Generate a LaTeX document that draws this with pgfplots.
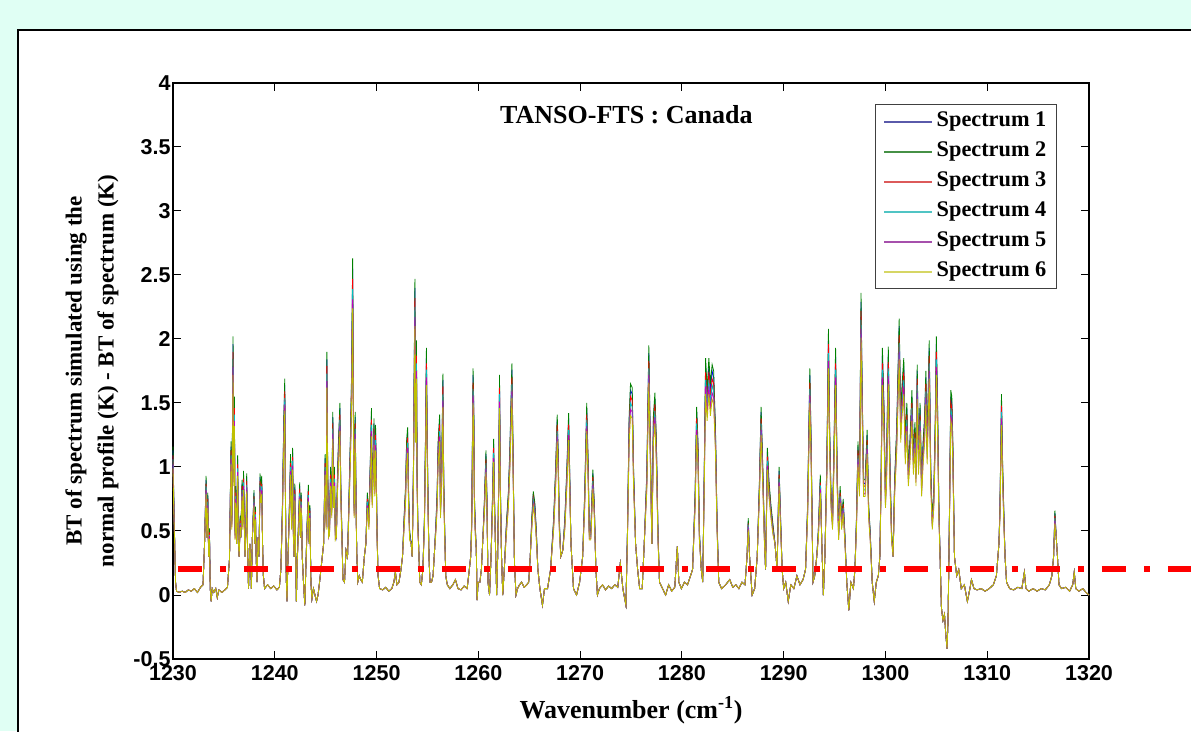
\documentclass[border=0pt]{standalone}
\usepackage{pgfplots}
\usepackage{pgfplotstable}
\pgfplotsset{compat=1.18}
\usepackage{fontspec}
\setmainfont{Liberation Serif}
\newfontfamily\lsans{Liberation Sans}
\definecolor{bgmint}{RGB}{224,255,244}
\definecolor{mA}{rgb}{0,0,1}
\definecolor{mB}{rgb}{0,0.5,0}
\definecolor{mC}{rgb}{1,0,0}
\definecolor{mD}{rgb}{0,0.75,0.75}
\definecolor{mE}{rgb}{0.75,0,0.75}
\definecolor{mF}{rgb}{0.75,0.75,0}
\definecolor{lA}{RGB}{90,90,170}
\definecolor{lB}{RGB}{70,145,70}
\definecolor{lC}{RGB}{220,90,90}
\definecolor{lD}{RGB}{80,196,196}
\definecolor{lE}{RGB}{166,80,172}
\definecolor{lF}{RGB}{214,214,100}
\pgfplotsset{speclegend/.style={legend image code/.code={%
  \pgfsetfillcolor{#1}\pgfpathrectangle{\pgfpoint{0pt}{-1pt}}{\pgfpoint{48pt}{2pt}}\pgfusepath{fill}}}}
\pgfplotstableread{
x s1 s2 s3 s4 s5 s6
1230.00 1.13 1.16 1.09 1.06 1.02 0.99
1230.06 0.82 0.85 0.80 0.77 0.75 0.72
1230.12 0.60 0.62 0.58 0.56 0.55 0.53
1230.18 0.35 0.35 0.35 0.35 0.35 0.35
1230.25 0.10 0.10 0.10 0.10 0.10 0.10
1230.35 0.03 0.03 0.03 0.03 0.03 0.03
1230.60 0.02 0.02 0.02 0.02 0.02 0.02
1230.90 0.03 0.03 0.03 0.03 0.03 0.03
1231.20 0.02 0.02 0.02 0.02 0.02 0.02
1231.50 0.04 0.04 0.04 0.04 0.04 0.04
1231.80 0.03 0.03 0.03 0.03 0.03 0.03
1232.10 0.05 0.05 0.05 0.05 0.05 0.05
1232.40 0.02 0.02 0.02 0.02 0.02 0.02
1232.70 0.06 0.06 0.06 0.06 0.06 0.06
1232.95 0.08 0.08 0.08 0.08 0.08 0.08
1233.10 0.40 0.40 0.40 0.40 0.40 0.40
1233.25 0.90 0.93 0.87 0.85 0.82 0.79
1233.33 0.45 0.45 0.45 0.45 0.45 0.45
1233.42 0.78 0.80 0.75 0.73 0.70 0.68
1233.50 0.30 0.30 0.30 0.30 0.30 0.30
1233.58 0.50 0.52 0.49 0.47 0.46 0.44
1233.66 0.05 0.05 0.05 0.05 0.05 0.05
1233.75 -0.05 -0.05 -0.05 -0.05 -0.05 -0.05
1233.85 0.05 0.05 0.05 0.05 0.05 0.05
1234.00 0.02 0.02 0.02 0.02 0.02 0.02
1234.20 0.05 0.05 0.05 0.05 0.05 0.05
1234.35 -0.02 -0.02 -0.02 -0.02 -0.02 -0.02
1234.50 0.04 0.04 0.04 0.04 0.04 0.04
1234.80 0.02 0.02 0.02 0.02 0.02 0.02
1235.10 0.04 0.04 0.04 0.04 0.04 0.04
1235.35 0.06 0.06 0.06 0.06 0.06 0.06
1235.55 0.28 0.28 0.28 0.28 0.28 0.28
1235.70 1.16 1.20 1.13 1.09 1.06 1.02
1235.78 0.58 0.60 0.56 0.55 0.53 0.51
1235.90 1.96 2.02 1.90 1.84 1.78 1.72
1235.97 0.97 1.00 0.94 0.91 0.88 0.85
1236.03 1.50 1.55 1.46 1.41 1.36 1.32
1236.10 0.49 0.50 0.47 0.46 0.44 0.43
1236.17 0.82 0.85 0.80 0.77 0.75 0.72
1236.25 0.40 0.40 0.40 0.40 0.40 0.40
1236.35 1.06 1.09 1.02 0.99 0.96 0.93
1236.42 0.49 0.50 0.47 0.46 0.44 0.43
1236.50 0.30 0.30 0.30 0.30 0.30 0.30
1236.60 0.60 0.62 0.58 0.56 0.55 0.53
1236.67 0.45 0.45 0.45 0.45 0.45 0.45
1236.78 0.87 0.90 0.85 0.82 0.79 0.77
1236.85 0.58 0.60 0.56 0.55 0.53 0.51
1236.93 0.94 0.97 0.91 0.88 0.85 0.82
1237.00 0.63 0.65 0.61 0.59 0.57 0.55
1237.08 0.30 0.30 0.30 0.30 0.30 0.30
1237.17 0.53 0.55 0.52 0.50 0.48 0.47
1237.24 0.92 0.95 0.89 0.86 0.84 0.81
1237.32 0.40 0.40 0.40 0.40 0.40 0.40
1237.42 0.05 0.05 0.05 0.05 0.05 0.05
1237.55 0.40 0.40 0.40 0.40 0.40 0.40
1237.62 0.30 0.30 0.30 0.30 0.30 0.30
1237.70 0.05 0.05 0.05 0.05 0.05 0.05
1237.80 0.45 0.45 0.45 0.45 0.45 0.45
1237.96 0.80 0.82 0.77 0.75 0.72 0.70
1238.03 0.40 0.40 0.40 0.40 0.40 0.40
1238.10 0.67 0.69 0.65 0.63 0.61 0.59
1238.17 0.30 0.30 0.30 0.30 0.30 0.30
1238.25 0.10 0.10 0.10 0.10 0.10 0.10
1238.35 0.45 0.45 0.45 0.45 0.45 0.45
1238.45 0.30 0.30 0.30 0.30 0.30 0.30
1238.55 0.92 0.95 0.89 0.86 0.84 0.81
1238.62 0.82 0.85 0.80 0.77 0.75 0.72
1238.72 0.90 0.93 0.87 0.85 0.82 0.79
1238.80 0.40 0.40 0.40 0.40 0.40 0.40
1238.88 0.15 0.15 0.15 0.15 0.15 0.15
1239.00 0.05 0.05 0.05 0.05 0.05 0.05
1239.30 0.08 0.08 0.08 0.08 0.08 0.08
1239.60 0.05 0.05 0.05 0.05 0.05 0.05
1239.90 0.07 0.07 0.07 0.07 0.07 0.07
1240.20 0.04 0.04 0.04 0.04 0.04 0.04
1240.45 0.06 0.06 0.06 0.06 0.06 0.06
1240.60 0.20 0.20 0.20 0.20 0.20 0.20
1240.75 0.68 0.70 0.66 0.64 0.62 0.60
1240.88 1.31 1.35 1.27 1.23 1.19 1.15
1240.98 1.64 1.69 1.59 1.54 1.49 1.44
1241.05 0.78 0.80 0.75 0.73 0.70 0.68
1241.12 0.15 0.15 0.15 0.15 0.15 0.15
1241.20 -0.05 -0.05 -0.05 -0.05 -0.05 -0.05
1241.30 0.30 0.30 0.30 0.30 0.30 0.30
1241.45 0.73 0.75 0.71 0.68 0.66 0.64
1241.55 1.07 1.10 1.03 1.00 0.97 0.94
1241.65 0.58 0.60 0.56 0.55 0.53 0.51
1241.75 1.12 1.15 1.08 1.05 1.01 0.98
1241.82 0.53 0.55 0.52 0.50 0.48 0.47
1241.90 0.30 0.30 0.30 0.30 0.30 0.30
1241.97 0.84 0.87 0.82 0.79 0.77 0.74
1242.05 0.30 0.30 0.30 0.30 0.30 0.30
1242.12 -0.05 -0.05 -0.05 -0.05 -0.05 -0.05
1242.20 0.25 0.25 0.25 0.25 0.25 0.25
1242.32 0.53 0.55 0.52 0.50 0.48 0.47
1242.45 0.85 0.88 0.83 0.80 0.77 0.75
1242.52 0.45 0.45 0.45 0.45 0.45 0.45
1242.60 0.78 0.80 0.75 0.73 0.70 0.68
1242.70 0.30 0.30 0.30 0.30 0.30 0.30
1242.82 0.10 0.10 0.10 0.10 0.10 0.10
1242.95 -0.08 -0.08 -0.08 -0.08 -0.08 -0.08
1243.05 0.20 0.20 0.20 0.20 0.20 0.20
1243.15 0.49 0.50 0.47 0.46 0.44 0.43
1243.30 0.83 0.86 0.81 0.78 0.76 0.73
1243.38 0.40 0.40 0.40 0.40 0.40 0.40
1243.45 0.68 0.70 0.66 0.64 0.62 0.60
1243.55 0.10 0.10 0.10 0.10 0.10 0.10
1243.65 -0.03 -0.03 -0.03 -0.03 -0.03 -0.03
1243.80 0.05 0.05 0.05 0.05 0.05 0.05
1243.95 0.00 0.00 0.00 0.00 0.00 0.00
1244.10 -0.05 -0.05 -0.05 -0.05 -0.05 -0.05
1244.25 0.00 0.00 0.00 0.00 0.00 0.00
1244.40 0.10 0.10 0.10 0.10 0.10 0.10
1244.60 0.25 0.25 0.25 0.25 0.25 0.25
1244.80 0.40 0.40 0.40 0.40 0.40 0.40
1244.95 1.07 1.10 1.03 1.00 0.97 0.94
1245.05 0.58 0.60 0.56 0.55 0.53 0.51
1245.12 1.84 1.90 1.79 1.73 1.67 1.62
1245.20 0.97 1.00 0.94 0.91 0.88 0.85
1245.28 0.45 0.45 0.45 0.45 0.45 0.45
1245.38 0.53 0.55 0.52 0.50 0.48 0.47
1245.48 0.97 1.00 0.94 0.91 0.88 0.85
1245.60 0.68 0.70 0.66 0.64 0.62 0.60
1245.70 1.39 1.43 1.34 1.30 1.26 1.22
1245.78 0.78 0.80 0.75 0.73 0.70 0.68
1245.86 0.97 1.00 0.94 0.91 0.88 0.85
1245.95 0.49 0.50 0.47 0.46 0.44 0.43
1246.05 0.45 0.45 0.45 0.45 0.45 0.45
1246.15 0.87 0.90 0.85 0.82 0.79 0.77
1246.25 1.14 1.18 1.11 1.07 1.04 1.00
1246.40 1.46 1.50 1.41 1.37 1.32 1.28
1246.48 0.87 0.90 0.85 0.82 0.79 0.77
1246.58 0.53 0.55 0.52 0.50 0.48 0.47
1246.70 0.12 0.12 0.12 0.12 0.12 0.12
1246.85 0.10 0.10 0.10 0.10 0.10 0.10
1247.00 0.35 0.35 0.35 0.35 0.35 0.35
1247.15 0.30 0.30 0.30 0.30 0.30 0.30
1247.30 0.78 0.80 0.75 0.73 0.70 0.68
1247.45 1.26 1.30 1.22 1.18 1.14 1.11
1247.55 1.70 1.75 1.65 1.59 1.54 1.49
1247.65 2.55 2.63 2.47 2.39 2.31 2.24
1247.73 1.46 1.50 1.41 1.37 1.32 1.28
1247.80 0.68 0.70 0.66 0.64 0.62 0.60
1247.90 1.39 1.43 1.34 1.30 1.26 1.22
1247.98 0.78 0.80 0.75 0.73 0.70 0.68
1248.05 0.35 0.35 0.35 0.35 0.35 0.35
1248.15 0.10 0.10 0.10 0.10 0.10 0.10
1248.30 0.15 0.15 0.15 0.15 0.15 0.15
1248.45 0.12 0.12 0.12 0.12 0.12 0.12
1248.60 0.10 0.10 0.10 0.10 0.10 0.10
1248.80 0.30 0.30 0.30 0.30 0.30 0.30
1248.95 0.40 0.40 0.40 0.40 0.40 0.40
1249.10 0.78 0.80 0.75 0.73 0.70 0.68
1249.25 0.58 0.60 0.56 0.55 0.53 0.51
1249.40 1.07 1.10 1.03 1.00 0.97 0.94
1249.50 1.42 1.46 1.37 1.33 1.28 1.24
1249.57 0.78 0.80 0.75 0.73 0.70 0.68
1249.65 0.97 1.00 0.94 0.91 0.88 0.85
1249.75 1.34 1.38 1.30 1.26 1.21 1.17
1249.82 0.87 0.90 0.85 0.82 0.79 0.77
1249.90 1.29 1.33 1.25 1.21 1.17 1.13
1249.97 0.97 1.00 0.94 0.91 0.88 0.85
1250.05 0.49 0.50 0.47 0.46 0.44 0.43
1250.15 0.15 0.15 0.15 0.15 0.15 0.15
1250.30 0.05 0.05 0.05 0.05 0.05 0.05
1250.60 0.04 0.04 0.04 0.04 0.04 0.04
1250.90 0.06 0.06 0.06 0.06 0.06 0.06
1251.20 0.03 0.03 0.03 0.03 0.03 0.03
1251.50 0.05 0.05 0.05 0.05 0.05 0.05
1251.70 0.10 0.10 0.10 0.10 0.10 0.10
1251.85 0.18 0.18 0.18 0.18 0.18 0.18
1252.00 0.08 0.08 0.08 0.08 0.08 0.08
1252.20 0.10 0.10 0.10 0.10 0.10 0.10
1252.40 0.20 0.20 0.20 0.20 0.20 0.20
1252.55 0.30 0.30 0.30 0.30 0.30 0.30
1252.70 0.58 0.60 0.56 0.55 0.53 0.51
1252.85 0.82 0.85 0.80 0.77 0.75 0.72
1252.95 1.16 1.20 1.13 1.09 1.06 1.02
1253.05 1.27 1.31 1.23 1.19 1.15 1.11
1253.15 0.78 0.80 0.75 0.73 0.70 0.68
1253.25 0.49 0.50 0.47 0.46 0.44 0.43
1253.40 0.40 0.40 0.40 0.40 0.40 0.40
1253.50 0.30 0.30 0.30 0.30 0.30 0.30
1253.62 0.97 1.00 0.94 0.91 0.88 0.85
1253.70 1.75 1.80 1.69 1.64 1.58 1.53
1253.77 2.40 2.47 2.32 2.25 2.17 2.10
1253.84 1.36 1.40 1.32 1.27 1.23 1.19
1253.92 1.93 1.99 1.87 1.81 1.75 1.69
1253.98 0.97 1.00 0.94 0.91 0.88 0.85
1254.05 0.58 0.60 0.56 0.55 0.53 0.51
1254.15 0.35 0.35 0.35 0.35 0.35 0.35
1254.25 0.10 0.10 0.10 0.10 0.10 0.10
1254.40 0.08 0.08 0.08 0.08 0.08 0.08
1254.55 0.20 0.20 0.20 0.20 0.20 0.20
1254.70 0.58 0.60 0.56 0.55 0.53 0.51
1254.80 1.16 1.20 1.13 1.09 1.06 1.02
1254.90 1.87 1.93 1.81 1.76 1.70 1.64
1254.97 1.26 1.30 1.22 1.18 1.14 1.11
1255.05 0.78 0.80 0.75 0.73 0.70 0.68
1255.15 0.30 0.30 0.30 0.30 0.30 0.30
1255.25 0.10 0.10 0.10 0.10 0.10 0.10
1255.40 0.10 0.10 0.10 0.10 0.10 0.10
1255.55 0.15 0.15 0.15 0.15 0.15 0.15
1255.70 0.35 0.35 0.35 0.35 0.35 0.35
1255.85 0.58 0.60 0.56 0.55 0.53 0.51
1255.95 0.78 0.80 0.75 0.73 0.70 0.68
1256.05 1.16 1.20 1.13 1.09 1.06 1.02
1256.20 1.37 1.41 1.33 1.28 1.24 1.20
1256.28 0.68 0.70 0.66 0.64 0.62 0.60
1256.40 0.97 1.00 0.94 0.91 0.88 0.85
1256.52 1.68 1.73 1.63 1.57 1.52 1.47
1256.60 0.87 0.90 0.85 0.82 0.79 0.77
1256.70 0.49 0.50 0.47 0.46 0.44 0.43
1256.80 0.15 0.15 0.15 0.15 0.15 0.15
1256.95 0.08 0.08 0.08 0.08 0.08 0.08
1257.20 0.05 0.05 0.05 0.05 0.05 0.05
1257.50 0.08 0.08 0.08 0.08 0.08 0.08
1257.75 0.12 0.12 0.12 0.12 0.12 0.12
1258.00 0.05 0.05 0.05 0.05 0.05 0.05
1258.30 0.04 0.04 0.04 0.04 0.04 0.04
1258.60 0.07 0.07 0.07 0.07 0.07 0.07
1258.90 0.05 0.05 0.05 0.05 0.05 0.05
1259.10 0.19 0.19 0.19 0.19 0.19 0.19
1259.25 0.30 0.30 0.30 0.30 0.30 0.30
1259.35 0.58 0.60 0.56 0.55 0.53 0.51
1259.48 1.72 1.77 1.66 1.61 1.56 1.50
1259.55 1.46 1.50 1.41 1.37 1.32 1.28
1259.62 0.75 0.77 0.72 0.70 0.68 0.65
1259.70 0.53 0.55 0.52 0.50 0.48 0.47
1259.80 0.35 0.35 0.35 0.35 0.35 0.35
1259.88 -0.04 -0.04 -0.04 -0.04 -0.04 -0.04
1259.98 0.10 0.10 0.10 0.10 0.10 0.10
1260.15 0.10 0.10 0.10 0.10 0.10 0.10
1260.30 0.20 0.20 0.20 0.20 0.20 0.20
1260.45 0.45 0.45 0.45 0.45 0.45 0.45
1260.60 0.73 0.75 0.71 0.68 0.66 0.64
1260.75 1.10 1.13 1.06 1.03 0.99 0.96
1260.85 0.73 0.75 0.71 0.68 0.66 0.64
1260.95 0.10 0.10 0.10 0.10 0.10 0.10
1261.10 0.00 0.00 0.00 0.00 0.00 0.00
1261.25 0.30 0.30 0.30 0.30 0.30 0.30
1261.40 0.78 0.80 0.75 0.73 0.70 0.68
1261.50 1.18 1.22 1.15 1.11 1.07 1.04
1261.58 0.78 0.80 0.75 0.73 0.70 0.68
1261.68 0.40 0.40 0.40 0.40 0.40 0.40
1261.80 0.00 0.00 0.00 0.00 0.00 0.00
1261.90 0.30 0.30 0.30 0.30 0.30 0.30
1262.00 0.89 0.92 0.86 0.84 0.81 0.78
1262.08 1.67 1.72 1.62 1.57 1.51 1.46
1262.18 0.78 0.80 0.75 0.73 0.70 0.68
1262.28 0.30 0.30 0.30 0.30 0.30 0.30
1262.40 0.00 0.00 0.00 0.00 0.00 0.00
1262.55 0.20 0.20 0.20 0.20 0.20 0.20
1262.75 0.53 0.55 0.52 0.50 0.48 0.47
1262.95 0.78 0.80 0.75 0.73 0.70 0.68
1263.10 1.12 1.15 1.08 1.05 1.01 0.98
1263.30 1.76 1.81 1.70 1.65 1.59 1.54
1263.40 1.16 1.20 1.13 1.09 1.06 1.02
1263.55 0.25 0.25 0.25 0.25 0.25 0.25
1263.70 0.00 0.00 0.00 0.00 0.00 0.00
1263.85 0.05 0.05 0.05 0.05 0.05 0.05
1264.05 0.08 0.08 0.08 0.08 0.08 0.08
1264.25 0.10 0.10 0.10 0.10 0.10 0.10
1264.50 0.06 0.06 0.06 0.06 0.06 0.06
1264.75 0.08 0.08 0.08 0.08 0.08 0.08
1264.95 0.10 0.10 0.10 0.10 0.10 0.10
1265.10 0.30 0.30 0.30 0.30 0.30 0.30
1265.25 0.58 0.60 0.56 0.55 0.53 0.51
1265.40 0.79 0.81 0.76 0.74 0.71 0.69
1265.55 0.70 0.72 0.68 0.66 0.63 0.61
1265.70 0.49 0.50 0.47 0.46 0.44 0.43
1265.85 0.20 0.20 0.20 0.20 0.20 0.20
1266.05 0.05 0.05 0.05 0.05 0.05 0.05
1266.30 -0.08 -0.08 -0.08 -0.08 -0.08 -0.08
1266.50 0.05 0.05 0.05 0.05 0.05 0.05
1266.80 0.05 0.05 0.05 0.05 0.05 0.05
1267.10 0.20 0.20 0.20 0.20 0.20 0.20
1267.40 0.58 0.60 0.56 0.55 0.53 0.51
1267.60 0.97 1.00 0.94 0.91 0.88 0.85
1267.75 1.37 1.41 1.33 1.28 1.24 1.20
1267.85 1.07 1.10 1.03 1.00 0.97 0.94
1267.95 0.58 0.60 0.56 0.55 0.53 0.51
1268.10 0.30 0.30 0.30 0.30 0.30 0.30
1268.30 0.35 0.35 0.35 0.35 0.35 0.35
1268.50 0.58 0.60 0.56 0.55 0.53 0.51
1268.70 0.97 1.00 0.94 0.91 0.88 0.85
1268.87 1.38 1.42 1.33 1.29 1.25 1.21
1268.97 0.97 1.00 0.94 0.91 0.88 0.85
1269.10 0.40 0.40 0.40 0.40 0.40 0.40
1269.35 0.05 0.05 0.05 0.05 0.05 0.05
1269.65 0.00 0.00 0.00 0.00 0.00 0.00
1269.95 0.10 0.10 0.10 0.10 0.10 0.10
1270.25 0.30 0.30 0.30 0.30 0.30 0.30
1270.45 0.78 0.80 0.75 0.73 0.70 0.68
1270.65 1.46 1.50 1.41 1.37 1.32 1.28
1270.80 0.97 1.00 0.94 0.91 0.88 0.85
1270.90 0.49 0.50 0.47 0.46 0.44 0.43
1271.05 0.49 0.50 0.47 0.46 0.44 0.43
1271.25 0.95 0.98 0.92 0.89 0.86 0.83
1271.40 0.68 0.70 0.66 0.64 0.62 0.60
1271.55 0.20 0.20 0.20 0.20 0.20 0.20
1271.70 0.00 0.00 0.00 0.00 0.00 0.00
1271.90 0.05 0.05 0.05 0.05 0.05 0.05
1272.20 0.08 0.08 0.08 0.08 0.08 0.08
1272.50 0.04 0.04 0.04 0.04 0.04 0.04
1272.80 0.07 0.07 0.07 0.07 0.07 0.07
1273.10 0.05 0.05 0.05 0.05 0.05 0.05
1273.40 0.08 0.08 0.08 0.08 0.08 0.08
1273.70 0.06 0.06 0.06 0.06 0.06 0.06
1273.95 0.25 0.25 0.25 0.25 0.25 0.25
1274.20 0.05 0.05 0.05 0.05 0.05 0.05
1274.50 -0.08 -0.08 -0.08 -0.08 -0.08 -0.08
1274.65 0.49 0.50 0.47 0.46 0.44 0.43
1274.82 1.36 1.40 1.32 1.27 1.23 1.19
1274.95 1.60 1.65 1.55 1.50 1.45 1.40
1275.12 1.57 1.62 1.52 1.47 1.43 1.38
1275.25 0.97 1.00 0.94 0.91 0.88 0.85
1275.45 0.40 0.40 0.40 0.40 0.40 0.40
1275.65 0.20 0.20 0.20 0.20 0.20 0.20
1275.85 0.05 0.05 0.05 0.05 0.05 0.05
1276.10 0.05 0.05 0.05 0.05 0.05 0.05
1276.30 0.40 0.40 0.40 0.40 0.40 0.40
1276.55 0.92 0.95 0.89 0.86 0.84 0.81
1276.75 1.89 1.95 1.83 1.77 1.72 1.66
1276.90 1.16 1.20 1.13 1.09 1.06 1.02
1277.05 0.40 0.40 0.40 0.40 0.40 0.40
1277.20 1.36 1.40 1.32 1.27 1.23 1.19
1277.35 1.53 1.58 1.49 1.44 1.39 1.34
1277.50 1.14 1.18 1.11 1.07 1.04 1.00
1277.65 0.49 0.50 0.47 0.46 0.44 0.43
1277.80 0.10 0.10 0.10 0.10 0.10 0.10
1278.10 0.05 0.05 0.05 0.05 0.05 0.05
1278.40 0.00 0.00 0.00 0.00 0.00 0.00
1278.70 0.08 0.08 0.08 0.08 0.08 0.08
1279.00 0.03 0.03 0.03 0.03 0.03 0.03
1279.30 0.06 0.06 0.06 0.06 0.06 0.06
1279.55 0.38 0.38 0.38 0.38 0.38 0.38
1279.70 0.10 0.10 0.10 0.10 0.10 0.10
1279.95 0.05 0.05 0.05 0.05 0.05 0.05
1280.25 0.10 0.10 0.10 0.10 0.10 0.10
1280.55 0.08 0.08 0.08 0.08 0.08 0.08
1280.85 0.15 0.15 0.15 0.15 0.15 0.15
1281.05 0.20 0.20 0.20 0.20 0.20 0.20
1281.30 0.78 0.80 0.75 0.73 0.70 0.68
1281.45 1.43 1.47 1.38 1.34 1.29 1.25
1281.58 1.16 1.20 1.13 1.09 1.06 1.02
1281.72 0.49 0.50 0.47 0.46 0.44 0.43
1281.90 0.20 0.20 0.20 0.20 0.20 0.20
1282.05 0.10 0.10 0.10 0.10 0.10 0.10
1282.20 0.97 1.00 0.94 0.91 0.88 0.85
1282.33 1.79 1.85 1.74 1.68 1.63 1.57
1282.48 1.55 1.60 1.50 1.46 1.41 1.36
1282.65 1.79 1.85 1.74 1.68 1.63 1.57
1282.80 1.60 1.65 1.55 1.50 1.45 1.40
1282.97 1.75 1.80 1.69 1.64 1.58 1.53
1283.12 1.70 1.75 1.65 1.59 1.54 1.49
1283.30 1.26 1.30 1.22 1.18 1.14 1.11
1283.45 0.58 0.60 0.56 0.55 0.53 0.51
1283.62 0.10 0.10 0.10 0.10 0.10 0.10
1283.90 0.05 0.05 0.05 0.05 0.05 0.05
1284.30 0.08 0.08 0.08 0.08 0.08 0.08
1284.70 0.12 0.12 0.12 0.12 0.12 0.12
1285.00 0.06 0.06 0.06 0.06 0.06 0.06
1285.30 0.08 0.08 0.08 0.08 0.08 0.08
1285.60 0.05 0.05 0.05 0.05 0.05 0.05
1285.90 0.10 0.10 0.10 0.10 0.10 0.10
1286.20 0.08 0.08 0.08 0.08 0.08 0.08
1286.40 0.30 0.30 0.30 0.30 0.30 0.30
1286.52 0.58 0.60 0.56 0.55 0.53 0.51
1286.65 0.30 0.30 0.30 0.30 0.30 0.30
1286.90 0.00 0.00 0.00 0.00 0.00 0.00
1287.15 0.05 0.05 0.05 0.05 0.05 0.05
1287.40 0.30 0.30 0.30 0.30 0.30 0.30
1287.62 0.87 0.90 0.85 0.82 0.79 0.77
1287.78 1.43 1.47 1.38 1.34 1.29 1.25
1287.95 0.97 1.00 0.94 0.91 0.88 0.85
1288.10 0.49 0.50 0.47 0.46 0.44 0.43
1288.22 0.20 0.20 0.20 0.20 0.20 0.20
1288.40 1.12 1.15 1.08 1.05 1.01 0.98
1288.55 0.87 0.90 0.85 0.82 0.79 0.77
1288.75 0.68 0.70 0.66 0.64 0.62 0.60
1288.95 0.53 0.55 0.52 0.50 0.48 0.47
1289.15 0.40 0.40 0.40 0.40 0.40 0.40
1289.35 0.20 0.20 0.20 0.20 0.20 0.20
1289.55 0.97 1.00 0.94 0.91 0.88 0.85
1289.70 0.58 0.60 0.56 0.55 0.53 0.51
1289.85 0.20 0.20 0.20 0.20 0.20 0.20
1290.00 0.05 0.05 0.05 0.05 0.05 0.05
1290.20 0.10 0.10 0.10 0.10 0.10 0.10
1290.45 -0.05 -0.05 -0.05 -0.05 -0.05 -0.05
1290.70 0.08 0.08 0.08 0.08 0.08 0.08
1291.00 0.05 0.05 0.05 0.05 0.05 0.05
1291.30 0.15 0.15 0.15 0.15 0.15 0.15
1291.60 0.08 0.08 0.08 0.08 0.08 0.08
1291.90 0.12 0.12 0.12 0.12 0.12 0.12
1292.15 0.20 0.20 0.20 0.20 0.20 0.20
1292.35 0.68 0.70 0.66 0.64 0.62 0.60
1292.57 1.72 1.77 1.66 1.61 1.56 1.50
1292.70 1.16 1.20 1.13 1.09 1.06 1.02
1292.88 0.10 0.10 0.10 0.10 0.10 0.10
1293.05 0.15 0.15 0.15 0.15 0.15 0.15
1293.25 0.30 0.30 0.30 0.30 0.30 0.30
1293.40 0.49 0.50 0.47 0.46 0.44 0.43
1293.60 0.91 0.94 0.88 0.86 0.83 0.80
1293.75 0.40 0.40 0.40 0.40 0.40 0.40
1293.90 0.00 0.00 0.00 0.00 0.00 0.00
1294.05 0.30 0.30 0.30 0.30 0.30 0.30
1294.25 1.07 1.10 1.03 1.00 0.97 0.94
1294.40 2.02 2.08 1.96 1.89 1.83 1.77
1294.52 1.26 1.30 1.22 1.18 1.14 1.11
1294.65 0.78 0.80 0.75 0.73 0.70 0.68
1294.80 0.58 0.60 0.56 0.55 0.53 0.51
1294.95 1.16 1.20 1.13 1.09 1.06 1.02
1295.10 1.87 1.93 1.81 1.76 1.70 1.64
1295.25 0.97 1.00 0.94 0.91 0.88 0.85
1295.40 0.49 0.50 0.47 0.46 0.44 0.43
1295.55 0.82 0.85 0.80 0.77 0.75 0.72
1295.70 0.58 0.60 0.56 0.55 0.53 0.51
1295.85 0.73 0.75 0.71 0.68 0.66 0.64
1296.00 0.49 0.50 0.47 0.46 0.44 0.43
1296.20 0.10 0.10 0.10 0.10 0.10 0.10
1296.40 -0.12 -0.12 -0.12 -0.12 -0.12 -0.12
1296.60 0.10 0.10 0.10 0.10 0.10 0.10
1296.85 0.05 0.05 0.05 0.05 0.05 0.05
1297.00 0.20 0.20 0.20 0.20 0.20 0.20
1297.15 0.58 0.60 0.56 0.55 0.53 0.51
1297.30 1.16 1.20 1.13 1.09 1.06 1.02
1297.45 0.87 0.90 0.85 0.82 0.79 0.77
1297.60 2.29 2.36 2.22 2.15 2.08 2.01
1297.70 1.65 1.70 1.60 1.55 1.50 1.45
1297.85 0.87 0.90 0.85 0.82 0.79 0.77
1298.00 0.87 0.90 0.85 0.82 0.79 0.77
1298.20 1.25 1.29 1.21 1.17 1.14 1.10
1298.35 0.68 0.70 0.66 0.64 0.62 0.60
1298.50 0.49 0.50 0.47 0.46 0.44 0.43
1298.70 0.10 0.10 0.10 0.10 0.10 0.10
1298.90 -0.05 -0.05 -0.05 -0.05 -0.05 -0.05
1299.10 0.10 0.10 0.10 0.10 0.10 0.10
1299.30 0.15 0.15 0.15 0.15 0.15 0.15
1299.45 0.30 0.30 0.30 0.30 0.30 0.30
1299.58 0.97 1.00 0.94 0.91 0.88 0.85
1299.70 1.87 1.93 1.81 1.76 1.70 1.64
1299.85 1.46 1.50 1.41 1.37 1.32 1.28
1300.00 0.78 0.80 0.75 0.73 0.70 0.68
1300.10 0.97 1.00 0.94 0.91 0.88 0.85
1300.28 1.88 1.94 1.82 1.77 1.71 1.65
1300.45 0.97 1.00 0.94 0.91 0.88 0.85
1300.60 0.49 0.50 0.47 0.46 0.44 0.43
1300.75 0.30 0.30 0.30 0.30 0.30 0.30
1300.90 0.87 0.90 0.85 0.82 0.79 0.77
1301.10 1.26 1.30 1.22 1.18 1.14 1.11
1301.35 2.10 2.16 2.03 1.97 1.90 1.84
1301.50 1.36 1.40 1.32 1.27 1.23 1.19
1301.60 1.55 1.60 1.50 1.46 1.41 1.36
1301.80 1.79 1.85 1.74 1.68 1.63 1.57
1301.95 1.16 1.20 1.13 1.09 1.06 1.02
1302.10 1.46 1.50 1.41 1.37 1.32 1.28
1302.25 0.97 1.00 0.94 0.91 0.88 0.85
1302.40 1.16 1.20 1.13 1.09 1.06 1.02
1302.60 1.55 1.60 1.50 1.46 1.41 1.36
1302.75 1.07 1.10 1.03 1.00 0.97 0.94
1302.90 1.31 1.35 1.27 1.23 1.19 1.15
1303.00 0.97 1.00 0.94 0.91 0.88 0.85
1303.12 1.75 1.80 1.69 1.64 1.58 1.53
1303.25 1.07 1.10 1.03 1.00 0.97 0.94
1303.40 1.46 1.50 1.41 1.37 1.32 1.28
1303.55 0.87 0.90 0.85 0.82 0.79 0.77
1303.70 1.16 1.20 1.13 1.09 1.06 1.02
1303.85 1.36 1.40 1.32 1.27 1.23 1.19
1303.97 1.70 1.75 1.65 1.59 1.54 1.49
1304.10 1.16 1.20 1.13 1.09 1.06 1.02
1304.30 1.93 1.99 1.87 1.81 1.75 1.69
1304.45 0.97 1.00 0.94 0.91 0.88 0.85
1304.60 0.58 0.60 0.56 0.55 0.53 0.51
1304.75 0.78 0.80 0.75 0.73 0.70 0.68
1304.90 1.36 1.40 1.32 1.27 1.23 1.19
1305.00 1.96 2.02 1.90 1.84 1.78 1.72
1305.12 1.46 1.50 1.41 1.37 1.32 1.28
1305.25 0.68 0.70 0.66 0.64 0.62 0.60
1305.40 0.20 0.20 0.20 0.20 0.20 0.20
1305.50 -0.10 -0.10 -0.10 -0.10 -0.10 -0.10
1305.65 -0.20 -0.20 -0.20 -0.20 -0.20 -0.20
1305.80 -0.15 -0.15 -0.15 -0.15 -0.15 -0.15
1305.92 -0.30 -0.30 -0.30 -0.30 -0.30 -0.30
1306.05 -0.42 -0.42 -0.42 -0.42 -0.42 -0.42
1306.15 -0.20 -0.20 -0.20 -0.20 -0.20 -0.20
1306.28 0.58 0.60 0.56 0.55 0.53 0.51
1306.42 1.55 1.60 1.50 1.46 1.41 1.36
1306.52 1.50 1.55 1.46 1.41 1.36 1.32
1306.62 1.16 1.20 1.13 1.09 1.06 1.02
1306.78 0.30 0.30 0.30 0.30 0.30 0.30
1307.00 0.15 0.15 0.15 0.15 0.15 0.15
1307.20 0.20 0.20 0.20 0.20 0.20 0.20
1307.45 0.05 0.05 0.05 0.05 0.05 0.05
1307.75 0.08 0.08 0.08 0.08 0.08 0.08
1308.05 -0.05 -0.05 -0.05 -0.05 -0.05 -0.05
1308.30 0.05 0.05 0.05 0.05 0.05 0.05
1308.45 0.12 0.12 0.12 0.12 0.12 0.12
1308.70 0.05 0.05 0.05 0.05 0.05 0.05
1309.00 0.04 0.04 0.04 0.04 0.04 0.04
1309.40 0.05 0.05 0.05 0.05 0.05 0.05
1309.80 0.03 0.03 0.03 0.03 0.03 0.03
1310.20 0.05 0.05 0.05 0.05 0.05 0.05
1310.60 0.08 0.08 0.08 0.08 0.08 0.08
1310.90 0.15 0.15 0.15 0.15 0.15 0.15
1311.15 0.40 0.40 0.40 0.40 0.40 0.40
1311.25 0.68 0.70 0.66 0.64 0.62 0.60
1311.40 1.52 1.57 1.48 1.43 1.38 1.33
1311.52 0.97 1.00 0.94 0.91 0.88 0.85
1311.65 0.58 0.60 0.56 0.55 0.53 0.51
1311.75 0.30 0.30 0.30 0.30 0.30 0.30
1311.90 0.10 0.10 0.10 0.10 0.10 0.10
1312.20 0.05 0.05 0.05 0.05 0.05 0.05
1312.60 0.04 0.04 0.04 0.04 0.04 0.04
1313.00 0.06 0.06 0.06 0.06 0.06 0.06
1313.40 0.05 0.05 0.05 0.05 0.05 0.05
1313.65 0.18 0.18 0.18 0.18 0.18 0.18
1313.80 0.05 0.05 0.05 0.05 0.05 0.05
1314.10 0.03 0.03 0.03 0.03 0.03 0.03
1314.50 0.05 0.05 0.05 0.05 0.05 0.05
1314.90 0.03 0.03 0.03 0.03 0.03 0.03
1315.30 0.05 0.05 0.05 0.05 0.05 0.05
1315.70 0.04 0.04 0.04 0.04 0.04 0.04
1316.10 0.08 0.08 0.08 0.08 0.08 0.08
1316.35 0.15 0.15 0.15 0.15 0.15 0.15
1316.52 0.30 0.30 0.30 0.30 0.30 0.30
1316.65 0.64 0.66 0.62 0.60 0.58 0.56
1316.78 0.45 0.45 0.45 0.45 0.45 0.45
1316.90 0.30 0.30 0.30 0.30 0.30 0.30
1317.05 0.08 0.08 0.08 0.08 0.08 0.08
1317.30 0.05 0.05 0.05 0.05 0.05 0.05
1317.70 0.06 0.06 0.06 0.06 0.06 0.06
1318.10 0.03 0.03 0.03 0.03 0.03 0.03
1318.40 0.08 0.08 0.08 0.08 0.08 0.08
1318.55 0.18 0.18 0.18 0.18 0.18 0.18
1318.70 0.05 0.05 0.05 0.05 0.05 0.05
1319.00 0.03 0.03 0.03 0.03 0.03 0.03
1319.40 0.05 0.05 0.05 0.05 0.05 0.05
1319.70 0.02 0.02 0.02 0.02 0.02 0.02
1320.00 0.00 0.00 0.00 0.00 0.00 0.00
}\spec
\begin{document}
\begin{tikzpicture}
\fill[bgmint] (0pt,0pt) rectangle (1191pt,731pt);
\useasboundingbox (0pt,0pt) rectangle (1191pt,731pt);
\fill[white] (18pt,-2pt) rectangle (1193pt,701pt);
\draw[line width=1.6pt] (18pt,-2pt) -- (18pt,701pt) -- (1193pt,701pt);
\begin{axis}[
  at={(173pt,72pt)}, anchor=south west,
  width=916pt, height=576pt, scale only axis,
  xmin=1230, xmax=1320, ymin=-0.5, ymax=4,
  xtick={1230,1240,1250,1260,1270,1280,1290,1300,1310,1320},
  ytick={-0.5,0,0.5,1,1.5,2,2.5,3,3.5,4},
  tick align=inside, tick pos=both, ticklabel pos=left,
  major tick length=8pt,
  axis line style={line width=1.2pt},
  every tick/.style={black, line width=1pt},
  /pgf/number format/assume math mode=true,
  /pgf/number format/1000 sep={},
  tick label style={font=\lsans\bfseries\fontsize{21.5}{21.5}\selectfont},
  xticklabel style={yshift=-3pt},
  yticklabel style={xshift=1pt},
  clip=false,
  title={TANSO-FTS : Canada},
  title style={at={(axis description cs:0.495,1)}, anchor=north, yshift=-25pt, font=\bfseries\fontsize{26}{26}\selectfont},
  xlabel={Wavenumber (cm\textsuperscript{-1})},
  xlabel style={at={(axis description cs:0.5,0)}, anchor=base, yshift=-59pt, font=\bfseries\fontsize{26}{26}\selectfont},
  ylabel={BT of spectrum simulated using the\\normal profile (K) - BT of spectrum (K)},
  ylabel style={at={(axis description cs:-0.0557,0.5)}, anchor=south, align=center, font=\bfseries\fontsize{23}{32}\selectfont},
  legend style={at={(axis description cs:0.965,0.9635)}, anchor=north east, draw=black!75, line width=1.2pt, fill=white,
    font=\bfseries\fontsize{22.3}{22.3}\selectfont, inner xsep=8pt, inner ysep=5pt, row sep=6pt, column sep=3pt,
    nodes={inner sep=2pt, text height=15pt, text depth=5pt}},
  legend cell align=left,
]
\addplot[draw=mA, line width=0.8pt, speclegend=lA] table[x=x, y=s1] {\spec};
\addlegendentry{Spectrum 1}
\addplot[draw=mB, line width=0.8pt, speclegend=lB] table[x=x, y=s2] {\spec};
\addlegendentry{Spectrum 2}
\addplot[draw=mC, line width=0.8pt, speclegend=lC] table[x=x, y=s3] {\spec};
\addlegendentry{Spectrum 3}
\addplot[draw=mD, line width=0.8pt, speclegend=lD] table[x=x, y=s4] {\spec};
\addlegendentry{Spectrum 4}
\addplot[draw=mE, line width=0.8pt, speclegend=lE] table[x=x, y=s5] {\spec};
\addlegendentry{Spectrum 5}
\addplot[draw=mF, line width=0.8pt, speclegend=lF] table[x=x, y=s6] {\spec};
\addlegendentry{Spectrum 6}
\addplot[draw=red, line width=6pt, dash pattern=on 24pt off 18pt on 6pt off 18pt, forget plot] coordinates {(1230.49,0.2) (1330,0.2)};
\end{axis}
\end{tikzpicture}
\end{document}
